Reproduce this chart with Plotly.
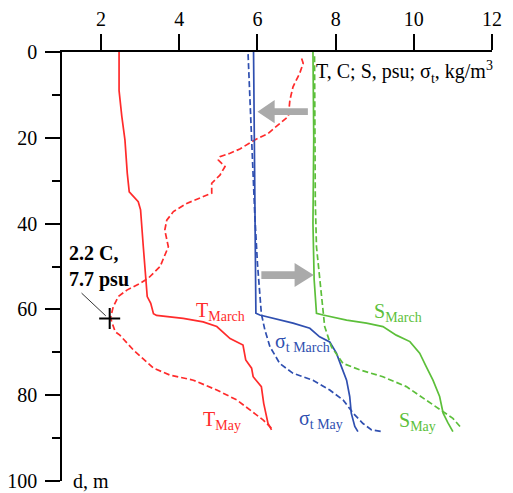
import plotly.graph_objects as go

# ---- data (value, depth) ----
t_march_x = [2.46, 2.46, 2.53, 2.61, 2.67, 2.72, 2.95, 3.01, 3.08, 3.14, 3.18, 3.27, 3.34, 3.42, 4.10, 4.61, 4.96, 5.30, 5.63, 5.70, 5.85, 5.89, 6.10, 6.16, 6.27, 6.36]
t_march_d = [0, 9, 15, 20.5, 28.3, 32.6, 34.9, 36.8, 45.4, 53.1, 57, 58.6, 61, 61.4, 62.1, 62.9, 64, 66.8, 68.3, 71.8, 73.7, 75.7, 78, 81.9, 86.6, 88.1]

t_may_x = [7.13, 7.17, 7.08, 6.91, 6.83, 6.79, 6.53, 6.27, 5.93, 5.55, 5.30, 5.04, 5.00, 5.17, 5.04, 4.83, 4.83, 4.53, 4.19, 3.85, 3.68, 3.63, 3.72, 3.51, 3.21, 3.00, 2.66, 2.44, 2.31, 2.24, 2.36, 2.48, 2.83, 3.34, 3.76, 4.36, 4.96, 5.47, 5.81, 6.15, 6.40]
t_may_d = [1.5, 2.6, 5, 8.1, 11.2, 15, 17, 19, 20.5, 22.6, 23.6, 24.4, 25.2, 26.7, 28.7, 30.6, 32.9, 34.1, 35.3, 37.2, 39.2, 41.5, 45.4, 50, 52.7, 53.9, 55.5, 57, 59.4, 62, 65.2, 66, 69.5, 73.7, 75.3, 76.5, 78.8, 81.1, 83.4, 85.8, 88.1]

sig_march_x = [5.90, 5.92, 5.93, 5.95, 5.96, 6.06, 6.57, 6.91, 7.34, 7.59, 7.85, 8.02, 8.15, 8.28, 8.36, 8.40, 8.49, 8.57]
sig_march_d = [0, 20, 40, 53, 60.9, 61.3, 62.5, 63.2, 64.4, 66.4, 67.6, 70.2, 73.4, 76.5, 80.3, 84.2, 87.3, 88.5]

sig_may_x = [5.76, 5.78, 5.81, 5.83, 5.88, 5.93, 6.00, 6.06, 6.10, 6.19, 6.32, 6.57, 6.91, 7.42, 7.85, 8.19, 8.45, 8.70, 8.92, 9.21]
sig_may_d = [0.5, 5, 11.2, 18, 28, 37.6, 49.3, 57, 61, 64.8, 68.7, 72.6, 74.9, 76.5, 78.8, 81.1, 84.2, 86.6, 88.1, 88.5]

s_march_x = [7.42, 7.44, 7.42, 7.45, 7.51, 7.68, 8.28, 8.79, 9.21, 9.55, 9.90, 10.15, 10.32, 10.49, 10.66, 10.75, 10.87, 11.00]
s_march_d = [0, 20, 40, 53, 60.9, 61.3, 62.5, 63.2, 64, 66, 67.5, 70.2, 73.4, 76.5, 80.3, 84.2, 86.4, 88.5]

s_may_x = [7.46, 7.47, 7.48, 7.51, 7.64, 7.68, 7.72, 7.89, 8.19, 8.62, 9.21, 9.81, 10.32, 10.75, 11.00, 11.22]
s_may_d = [1, 20, 35, 45.4, 57, 60.9, 64, 68.7, 72.6, 74.1, 75.7, 78, 81.1, 83.8, 85.4, 87.7]

point_x = [2.22]
point_d = [62.1]

x_ticks = [2, 4, 6, 8, 10, 12]
y_ticks = [0, 20, 40, 60, 80, 100]

RED = "#ff2b2b"
BLUE = "#2f4fb0"
GREEN = "#5cbf3a"
GRAY = "#aaaaaa"
FONT = "Liberation Serif"

fig = go.Figure()

def add(x, y, color, dash):
    fig.add_trace(go.Scatter(x=x, y=y, mode="lines",
                             line=dict(color=color, width=1.7, dash=dash),
                             hoverinfo="skip", showlegend=False))

add(t_march_x, t_march_d, RED, "solid")
add(t_may_x, t_may_d, RED, "6px,3px")
add(sig_march_x, sig_march_d, BLUE, "solid")
add(sig_may_x, sig_may_d, BLUE, "6px,3px")
add(s_march_x, s_march_d, GREEN, "solid")
add(s_may_x, s_may_d, GREEN, "6px,3px")

fig.add_trace(go.Scatter(x=point_x, y=point_d, mode="markers",
                         marker=dict(symbol="cross-thin", size=15,
                                     line=dict(color="black", width=2)),
                         hoverinfo="skip", showlegend=False))

# arrows (decorations)
def arrow(tip_x, base_x, end_x, yc, h, s):
    return (f"M {tip_x},{yc} L {base_x},{yc - h} L {base_x},{yc - s} L {end_x},{yc - s} "
            f"L {end_x},{yc + s} L {base_x},{yc + s} L {base_x},{yc + h} Z")

fig.add_shape(type="path", xref="x", yref="y",
              path=arrow(6.00, 6.44, 7.29, 13.9, 2.7, 0.8),
              fillcolor=GRAY, line=dict(width=0))
fig.add_shape(type="path", xref="x", yref="y",
              path=arrow(7.44, 6.95, 6.10, 52.0, 2.8, 0.9),
              fillcolor=GRAY, line=dict(width=0))

# pointer line
fig.add_shape(type="line", xref="x", yref="y", x0=1.50, y0=56.2, x1=2.12, y1=61.5,
              line=dict(color="black", width=0.8))

ann = []
def label(text, x, y, color, size=20):
    ann.append(dict(text=text, x=x, y=y, xref="x", yref="y", xanchor="left",
                    yanchor="middle", showarrow=False, align="left",
                    font=dict(family=FONT, size=size, color=color)))

label("T, C; S, psu; σ<sub>t</sub>, kg/m<sup>3</sup>", 7.45, 4.6, "black", 20)
label("<b>2.2 C,<br>7.7 psu</b>", 1.12, 50.0, "black", 20)
label("T<sub>March</sub>", 4.37, 60.6, RED)
label("T<sub>May</sub>", 4.55, 86.0, RED)
label("σ<sub>t March</sub>", 6.40, 67.6, BLUE)
label("σ<sub>t May</sub>", 7.00, 85.7, BLUE)
label("S<sub>March</sub>", 8.92, 60.8, GREEN)
label("S<sub>May</sub>", 9.57, 86.2, GREEN)
label("d, m", 1.22, 100, "black", 20)

# page body has an 8px margin: size the figure so the plot lands where intended
fig.update_layout(
    width=505, height=485,
    margin=dict(l=54, r=21, t=44, b=12, autoexpand=False),
    paper_bgcolor="white", plot_bgcolor="white",
    font=dict(family=FONT, size=20, color="black"),
    annotations=ann,
    xaxis=dict(side="top", range=[1, 12], tickvals=x_ticks, ticks="outside",
               ticklen=16, tickwidth=1.5, tickcolor="black", showline=True,
               linecolor="black", linewidth=1.5, showgrid=False, zeroline=False,
               ticklabelstandoff=0, fixedrange=True),
    yaxis=dict(range=[100, 0], tickvals=y_ticks, ticks="outside", ticklen=15,
               tickwidth=1.5, tickcolor="black", showline=True, linecolor="black",
               linewidth=1.5, showgrid=False, zeroline=False, ticklabelstandoff=4,
               minor=dict(dtick=10, tick0=0, ticks="outside", ticklen=8,
                          tickwidth=1.5, tickcolor="black", showgrid=False),
               fixedrange=True),
)

fig.write_html("out.html")
